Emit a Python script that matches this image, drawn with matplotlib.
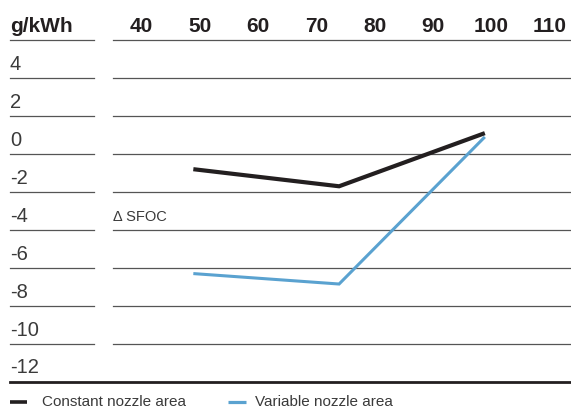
import matplotlib.pyplot as plt
from matplotlib.transforms import ScaledTranslation, blended_transform_factory

plt.rcParams['font.family'] = ['Liberation Sans', 'DejaVu Sans']

# engine load (%) and change in SFOC (g/kWh)
load = [50, 75, 100]
constant_nozzle = [-1.8, -2.7, 0.1]
variable_nozzle = [-7.3, -7.85, -0.1]

x_labels = [40, 50, 60, 70, 80, 90, 100, 110]
y_labels = [4, 2, 0, -2, -4, -6, -8, -10, -12]

W, H = 571, 410
fig = plt.figure(figsize=(W / 100, H / 100), dpi=100)
ax = fig.add_axes([0, 0, 1, 1])
ax.set_xlim(16.84, 114.78)
ax.set_ylim(-14.435, 7.167)
ax.axis('off')


def fx(p):
    return p / W


def fy(p):
    return 1 - p / H


def shift(dx, dy):
    return ScaledTranslation(dx / 100, -dy / 100, fig.dpi_scale_trans)


rowtrans = blended_transform_factory(ax.transAxes, ax.transData)

# row separators
for v in [5] + [t - 1 for t in y_labels[:-1]]:
    ax.axhline(v, fx(10), fx(94), color='#555555', lw=0.9)
    ax.axhline(v, fx(113), 1, color='#555555', lw=0.9)
ax.axhline(y_labels[-1] - 1, fx(10), 1, color='#231f20', lw=2.0)

# row labels
for v in y_labels:
    ax.text(fx(10), v, str(v), transform=rowtrans + shift(0, 9.7),
            ha='left', va='baseline', fontsize=14.5, color='#3a3a3a')

# header row
ax.text(fx(10), 6, 'g/kWh', transform=rowtrans + shift(0, 9.6),
        ha='left', va='baseline', fontsize=15, fontweight='bold', color='#231f20')
for L in x_labels:
    ax.text(L, 6, str(L), transform=ax.transData + shift(6.3, 9.6),
            ha='center', va='baseline', fontsize=15, fontweight='bold', color='#231f20')

ax.text(fx(113), -4, '\u0394 SFOC', transform=rowtrans + shift(0, 8.7),
        ha='left', va='baseline', fontsize=10.5, color='#3a3a3a')

# series
ax.plot(load, constant_nozzle, color='#231f20', lw=3.0, solid_capstyle='butt', solid_joinstyle='miter')
ax.plot(load, variable_nozzle, color='#5aa2d0', lw=2.2, solid_capstyle='butt', solid_joinstyle='miter')

# legend
ax.plot([fx(10), fx(27)], [fy(402.5), fy(402.5)], transform=ax.transAxes,
        color='#231f20', lw=2.6, solid_capstyle='butt', clip_on=False)
ax.text(fx(42), fy(409.5), 'Constant nozzle area', transform=ax.transAxes,
        ha='left', va='bottom', fontsize=11, color='#3a3a3a')
ax.plot([fx(228), fx(246)], [fy(402.5), fy(402.5)], transform=ax.transAxes,
        color='#5aa2d0', lw=2.3, solid_capstyle='butt', clip_on=False)
ax.text(fx(255), fy(409.5), 'Variable nozzle area', transform=ax.transAxes,
        ha='left', va='bottom', fontsize=11, color='#3a3a3a')

fig.savefig('out.png', dpi=100)
